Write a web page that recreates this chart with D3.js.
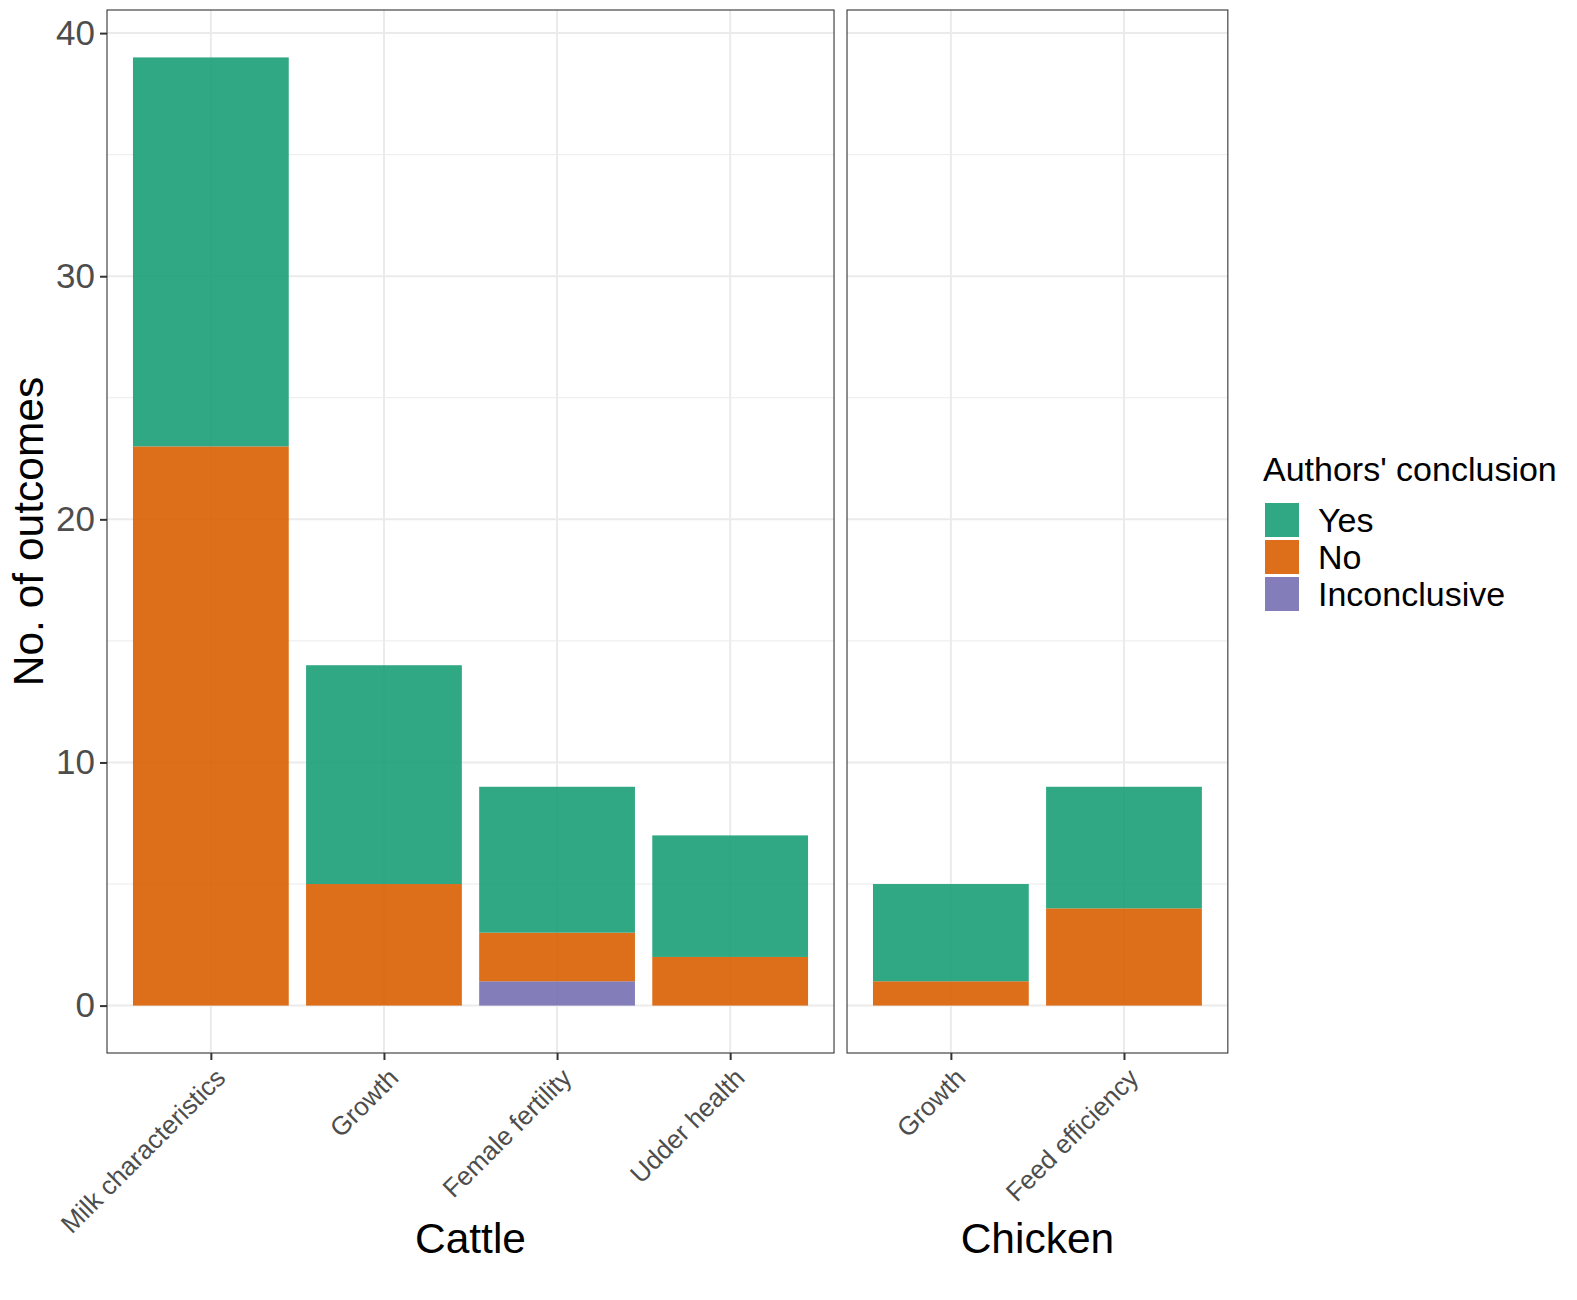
<!DOCTYPE html>
<html>
<head>
<meta charset="utf-8">
<script src="https://cdn.jsdelivr.net/npm/d3@7"></script>
<style>
  body { margin: 0; background: #fff; overflow: hidden; }
  svg { display: block; }
  text { font-family: "Liberation Sans", Arial, sans-serif; }
</style>
</head>
<body>
<div id="plot"></div>
<script>
// Data
const conclusions = ["Yes", "No", "Inconclusive"];
const stackOrder = ["Inconclusive", "No", "Yes"]; // bottom to top
const colors = ["#1b9e77", "#d95f02", "#7570b3"];

const cattleCats = ["Milk characteristics", "Growth", "Female fertility", "Udder health"];
const cattleYes = [16, 9, 6, 5];
const cattleNo = [23, 5, 2, 2];
const cattleInconclusive = [0, 0, 1, 0];

const chickenCats = ["Growth", "Feed efficiency"];
const chickenYes = [4, 5];
const chickenNo = [1, 4];
const chickenInconclusive = [0, 0];

const yTicks = [0, 10, 20, 30, 40];
const yMinorTicks = [5, 15, 25, 35];

const facets = [
  { name: "Cattle", cats: cattleCats, Yes: cattleYes, No: cattleNo, Inconclusive: cattleInconclusive },
  { name: "Chicken", cats: chickenCats, Yes: chickenYes, No: chickenNo, Inconclusive: chickenInconclusive }
];

// Layout
const W = 1577, H = 1300;
const panelTop = 10, panelBottom = 1053;
const panelLeft = 107, gap = 13;
const unit = 173.1; // px per category step (space = "free")

const svg = d3.select("#plot")
  .append("svg")
  .attr("width", W)
  .attr("height", H);

const color = d3.scaleOrdinal().domain(conclusions).range(colors);

const y = d3.scaleLinear()
  .domain([-1.95, 40.95])
  .range([panelBottom, panelTop]);

let x0 = panelLeft;
facets.forEach((f, fi) => {
  const pw = unit * (f.cats.length - 1 + 1.2);
  const x = d3.scalePoint()
    .domain(f.cats)
    .range([0, pw])
    .padding(0.6);
  const barW = x.step() * 0.9;

  const g = svg.append("g").attr("transform", `translate(${x0},0)`);

  // grid
  g.selectAll(".minor").data(yMinorTicks).enter().append("line")
    .attr("x1", 0).attr("x2", pw)
    .attr("y1", d => y(d)).attr("y2", d => y(d))
    .attr("stroke", "#ebebeb").attr("stroke-width", 1);
  g.selectAll(".major").data(yTicks).enter().append("line")
    .attr("x1", 0).attr("x2", pw)
    .attr("y1", d => y(d)).attr("y2", d => y(d))
    .attr("stroke", "#ebebeb").attr("stroke-width", 2);
  g.selectAll(".vmajor").data(f.cats).enter().append("line")
    .attr("x1", d => x(d)).attr("x2", d => x(d))
    .attr("y1", panelTop).attr("y2", panelBottom)
    .attr("stroke", "#ebebeb").attr("stroke-width", 2);

  // stacked bars
  const rows = f.cats.map((c, i) => {
    const r = { cat: c };
    conclusions.forEach(k => r[k] = f[k][i]);
    return r;
  });
  const series = d3.stack().keys(stackOrder)(rows);
  series.forEach(s => {
    g.append("g")
      .attr("fill", color(s.key))
      .attr("fill-opacity", 0.9)
      .selectAll("rect")
      .data(s.filter(d => d[1] > d[0]))
      .enter().append("rect")
      .attr("x", d => x(d.data.cat) - barW / 2)
      .attr("width", barW)
      .attr("y", d => y(d[1]))
      .attr("height", d => y(d[0]) - y(d[1]));
  });

  // panel border
  g.append("rect")
    .attr("x", 0).attr("y", panelTop)
    .attr("width", pw).attr("height", panelBottom - panelTop)
    .attr("fill", "none").attr("stroke", "#333333").attr("stroke-width", 1.1);

  // x axis
  const xa = g.append("g")
    .attr("transform", `translate(0,${panelBottom})`)
    .call(d3.axisBottom(x).tickSize(7).tickSizeOuter(0));
  xa.select(".domain").remove();
  xa.selectAll(".tick line").attr("stroke", "#333333").attr("stroke-width", 2);
  xa.selectAll(".tick text")
    .attr("fill", "#4d4d4d")
    .style("font-size", "26px")
    .attr("text-anchor", "end")
    .attr("dy", null)
    .attr("y", 0)
    .attr("dominant-baseline", "hanging")
    .attr("transform", "translate(2,13) rotate(-45)");

  // facet strip label at bottom
  g.append("text")
    .attr("x", pw / 2)
    .attr("y", 1253)
    .attr("text-anchor", "middle")
    .attr("fill", "#000")
    .style("font-size", "42.5px")
    .text(f.name);

  // y axis on first panel
  if (fi === 0) {
    const ya = g.append("g")
      .call(d3.axisLeft(y).tickValues(yTicks).tickSize(7).tickPadding(5));
    ya.select(".domain").remove();
    ya.selectAll(".tick line").attr("stroke", "#333333").attr("stroke-width", 2);
    ya.selectAll(".tick text")
      .attr("fill", "#4d4d4d")
      .style("font-size", "35px");
  }

  x0 += pw + gap;
});

// y axis title
svg.append("text")
  .attr("transform", `translate(43,${(panelTop + panelBottom) / 2}) rotate(-90)`)
  .attr("text-anchor", "middle")
  .attr("fill", "#000")
  .style("font-size", "42.5px")
  .text("No. of outcomes");

// legend
const legend = svg.append("g").attr("transform", "translate(1265,0)");
legend.append("text")
  .attr("x", -2).attr("y", 481)
  .attr("fill", "#000")
  .style("font-size", "34px")
  .text("Authors' conclusion");
conclusions.forEach((k, i) => {
  legend.append("rect")
    .attr("x", 0).attr("y", 503 + i * 37)
    .attr("width", 34).attr("height", 34)
    .attr("fill", color(k)).attr("fill-opacity", 0.9);
  legend.append("text")
    .attr("x", 53).attr("y", 520 + i * 37)
    .attr("dy", "0.35em")
    .attr("fill", "#000")
    .style("font-size", "34px")
    .text(k);
});
</script>
</body>
</html>
